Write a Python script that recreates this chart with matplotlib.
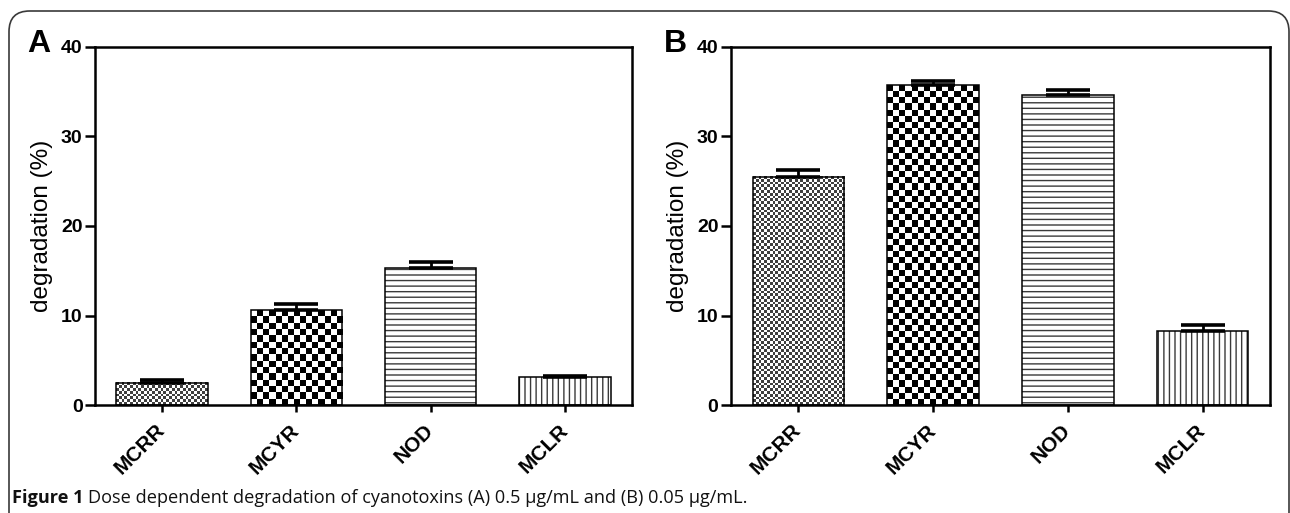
import numpy as np
import matplotlib
matplotlib.use("Agg")
import matplotlib.pyplot as plt
from matplotlib.patches import FancyBboxPatch

categories = ["MCRR", "MCYR", "NOD", "MCLR"]
values_a = [2.5, 10.6, 15.3, 3.1]
errors_a = [0.3, 0.7, 0.7, 0.12]
values_b = [25.5, 35.7, 34.6, 8.3]
errors_b = [0.8, 0.5, 0.55, 0.6]
yticks = [0, 10, 20, 30, 40]
ylabel = "degradation (%)"
caption_bold = "Figure 1"
caption_rest = "Dose dependent degradation of cyanotoxins (A) 0.5 \u03bcg/mL and (B) 0.05 \u03bcg/mL."

W, H = 1290, 513
DPI = 100
plt.rcParams["font.family"] = ["Liberation Sans", "DejaVu Sans"]
plt.rcParams["hatch.linewidth"] = 1.0

fig = plt.figure(figsize=(W / DPI, H / DPI), dpi=DPI)

# outer rounded frame
frame = FancyBboxPatch((9 / W, -20 / H), (1289 - 9) / W, (H - 11 + 20) / H,
                       boxstyle="round,pad=0,rounding_size=0.016",
                       transform=fig.transFigure, fill=False,
                       edgecolor="#3a3a3a", linewidth=1.2,
                       mutation_aspect=W / H)
fig.patches.append(frame)

# pattern styles per category
styles = ["fine", "checker", "hlines", "vlines"]


def checker_image(ax, patch, cell_px, dark):
    x0, w, h = patch.get_x(), patch.get_width(), patch.get_height()
    p0 = ax.transData.transform((x0, 0))
    p1 = ax.transData.transform((x0 + w, h))
    wpx, hpx = abs(p1[0] - p0[0]), abs(p1[1] - p0[1])
    nx = max(1, int(round(wpx / cell_px)))
    ny = max(1, int(round(hpx / cell_px)))
    ii, jj = np.meshgrid(np.arange(nx), np.arange(ny))
    arr = ((ii + jj) % 2).astype(float)
    img = np.ones((ny, nx, 3))
    img[arr == 1] = dark
    ax.imshow(img, extent=(x0, x0 + w, 0, h), origin="lower",
              interpolation="nearest", aspect="auto", zorder=2)


def panel(rect, values, errors, letter, letter_x):
    ax = fig.add_axes(rect)
    x = np.arange(len(categories))
    ax.set_xlim(-0.5, len(categories) - 0.5)
    ax.set_ylim(0, 40)
    bars = ax.bar(x, values, width=0.68, color="white", edgecolor="none",
                  linewidth=0, zorder=1)
    for b, st in zip(bars, styles):
        if st == "fine":
            checker_image(ax, b, 2.8, (0.25, 0.25, 0.25))
        elif st == "checker":
            checker_image(ax, b, 6.2, (0.0, 0.0, 0.0))
        elif st == "hlines":
            b.set_hatch("---")
            b.set_edgecolor("#3a3a3a")
        elif st == "vlines":
            b.set_hatch("|||")
            b.set_edgecolor("#3a3a3a")
    ax.bar(x, values, width=0.68, fill=False, edgecolor="black",
           linewidth=1.1, zorder=3)
    ax.errorbar(x, values, yerr=[np.zeros(len(values)), errors], fmt="none",
                ecolor="black", elinewidth=2.0, capsize=16, capthick=2.6,
                zorder=4)
    ax.set_xlim(-0.5, len(categories) - 0.5)
    ax.set_ylim(0, 40)
    ax.set_yticks(yticks)
    ax.set_yticklabels([str(t) for t in yticks], fontsize=14,
                       fontweight="bold")
    ax.set_xticks(x)
    ax.set_xticklabels(categories, fontsize=15, fontweight="bold",
                       rotation=45, ha="right", va="center",
                       rotation_mode="anchor")
    ax.tick_params(axis="y", direction="out", length=7, width=1.8, pad=2)
    ax.tick_params(axis="x", direction="out", length=5, width=1.8, pad=11)
    for s in ax.spines.values():
        s.set_linewidth(1.8)
    ax.set_ylabel(ylabel, fontsize=17.5, labelpad=6)
    fig.text(letter_x / W, 1 - 52 / H, letter, fontsize=23,
             fontweight="bold", ha="left", va="baseline")
    return ax


axA = panel([95 / W, (H - 405) / H, (632 - 95) / W, (405 - 47) / H],
            values_a, errors_a, "A", 27)
axB = panel([731 / W, (H - 405) / H, (1270 - 731) / W, (405 - 47) / H],
            values_b, errors_b, "B", 664)

# caption
cap_font = ["Open Sans", "DejaVu Sans"]
t1 = fig.text(12 / W, 1 - 503 / H, caption_bold, fontsize=13.1,
              fontweight="bold", family=cap_font, ha="left", va="baseline",
              color="#111111")
fig.canvas.draw()
r = fig.canvas.get_renderer()
bb = t1.get_window_extent(r)
fig.text((bb.x1 + 4) / W, 1 - 503 / H, caption_rest, fontsize=13.1,
         family=cap_font, ha="left", va="baseline", color="#111111")

fig.savefig("out.png", dpi=DPI)
